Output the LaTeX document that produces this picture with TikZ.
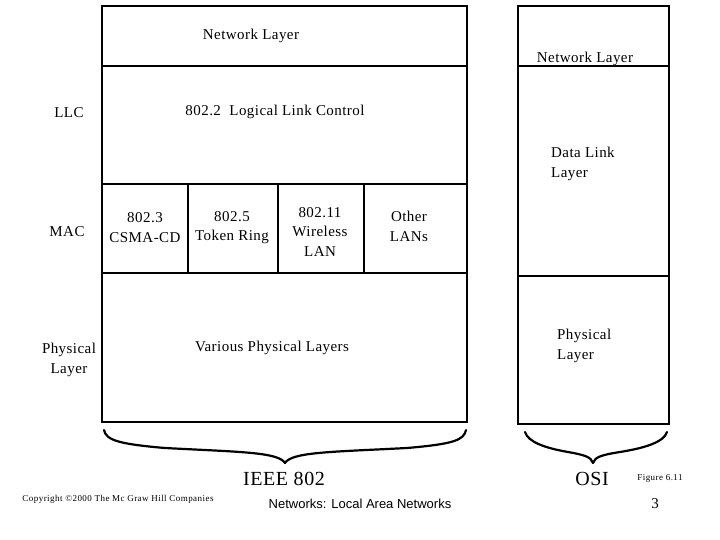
\documentclass[tikz,border=0pt]{standalone}
\usepackage{fontspec}
\setmainfont{Liberation Serif}[LetterSpace=3]
\newfontfamily\arialfont{Liberation Sans}
\newfontfamily\tinyfont{Liberation Serif}[LetterSpace=5]
\begin{document}
\begin{tikzpicture}[x=1pt,y=-1pt,
  lbl/.style={inner sep=0pt,font=\fontsize{15}{19.5}\selectfont,align=center},
  lbll/.style={lbl,align=left,anchor=west},
  frame/.style={line width=2pt},
  brace/.style={line width=2.2pt,line cap=round}]
\useasboundingbox (0,0) rectangle (720,540);
% left stack
\draw[frame] (102,6) rectangle (467,422);
\draw[frame] (102,66) -- (467,66);
\draw[frame] (102,184) -- (467,184);
\draw[frame] (102,273) -- (467,273);
\draw[frame] (188,184) -- (188,273);
\draw[frame] (278,184) -- (278,273);
\draw[frame] (364,184) -- (364,273);
% right stack
\draw[frame] (518,6) rectangle (669,424);
\draw[frame] (518,66) -- (668,66);
\draw[frame] (518,276) -- (669,276);
% texts
\node[lbl] (nl1) at (251,35.5) {Network Layer};
\node[lbl] (nl2) at (585,59) {Network Layer};
\node[lbl] (llc) at (69,113) {LLC};
\node[lbl] (l8022) at (275,111.5) {802.2\ \ Logical Link Control};
\node[lbll] (dll) at (551,164) {Data Link\\Layer};
\node[lbl] (mac) at (67,232) {MAC};
\node[lbl] (e8023) at (145,227.5) {802.3\\CSMA-CD};
\node[lbl] (e8025) at (232,227.5) {802.5\\Token Ring};
\node[lbl] (e80211) at (320,232) {802.11\\Wireless\\LAN};
\node[lbl] (other) at (409,226.5) {Other\\LANs};
\node[lbl] (phy1) at (69,360) {Physical\\Layer};
\node[lbl] (vpl) at (272,348) {Various Physical Layers};
\node[lbll] (phy2) at (557,346) {Physical\\Layer};
% braces
\draw[brace] (104,430) .. controls (106,440) and (118,444) .. (165,448)
  .. controls (240,452) and (278,452) .. (285,463);
\draw[brace] (285,463) .. controls (292,452) and (330,452) .. (407,448)
  .. controls (454,444) and (464,440) .. (466,430);
\draw[brace] (525,432) .. controls (528,442) and (545,448) .. (568,452)
  .. controls (585,455) and (591,457) .. (593,463);
\draw[brace] (593,463) .. controls (595,457) and (601,455) .. (620,452)
  .. controls (645,448) and (664,442) .. (667,432);
\node[lbl,font=\fontsize{20}{24}\selectfont] (ieee) at (284,479) {IEEE 802};
\node[lbl,font=\fontsize{20}{24}\selectfont] (osi) at (592,479) {OSI};
\node[lbl,font=\tinyfont\fontsize{9}{10}\selectfont] (fig) at (660,478) {Figure 6.11};
\node[lbl,font=\tinyfont\fontsize{9}{10}\selectfont] (copy) at (118,499) {Copyright \textcopyright 2000 The Mc Graw Hill Companies};
\node[lbl,font=\arialfont\fontsize{13}{16}\selectfont] (foot) at (360,504) {Networks: Local Area Networks};
\node[lbl] (page) at (655,504) {3};
\end{tikzpicture}
\end{document}
